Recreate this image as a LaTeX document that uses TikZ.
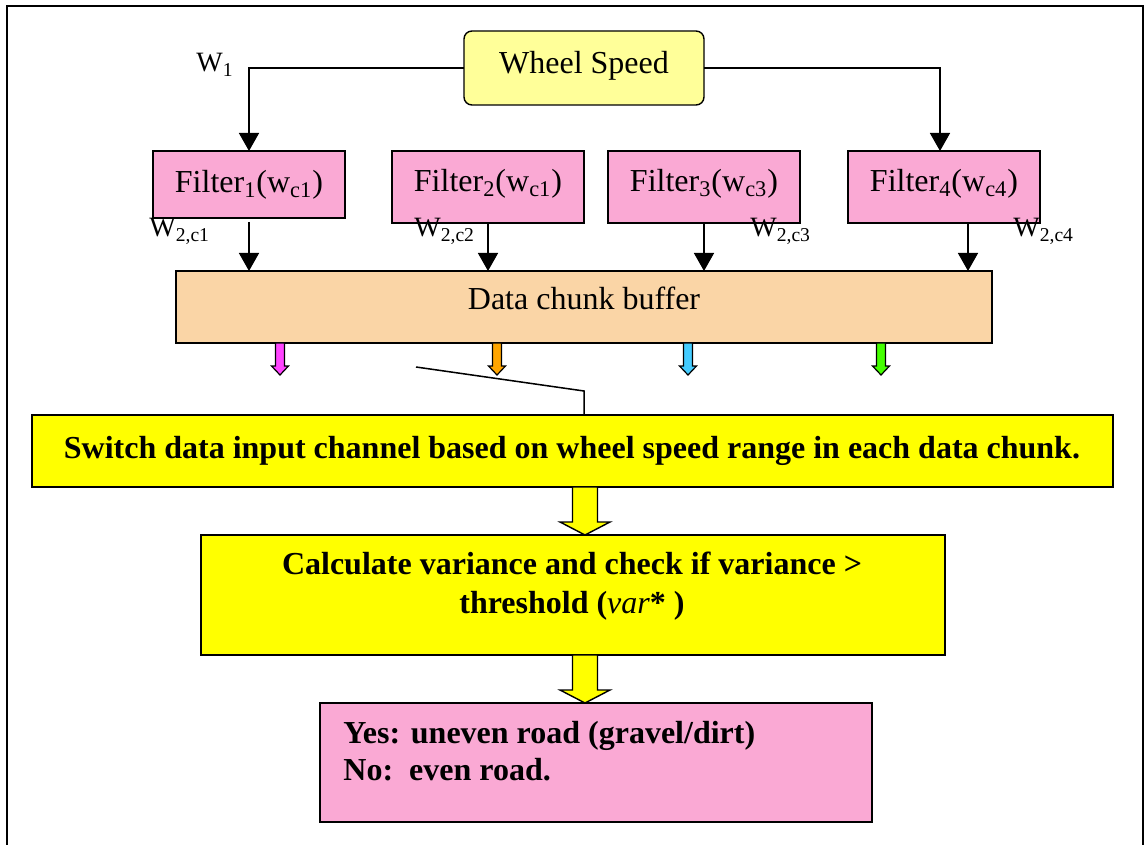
\documentclass[tikz,border=0pt]{standalone}
\usepackage{fontspec}
\setmainfont{Liberation Serif}
\usetikzlibrary{arrows.meta,calc}
\definecolor{wsyellow}{HTML}{FFFF99}
\definecolor{fpink}{HTML}{FAA9D4}
\definecolor{bufpeach}{HTML}{FAD5A6}
\definecolor{syellow}{HTML}{FFFF00}
\definecolor{amag}{HTML}{FF44FF}
\definecolor{aorange}{HTML}{FFA500}
\definecolor{acyan}{HTML}{44CCFF}
\definecolor{agreen}{HTML}{44FF00}
\begin{document}
\begin{tikzpicture}[x=0.5pt,y=-0.5pt,
  box/.style={draw=black,line width=0.7pt,inner sep=0pt,outer sep=0pt},
  filt/.style={box,fill=fpink,minimum width=96pt,minimum height=36pt,font=\fontsize{16}{19}\selectfont},
  lab/.style={inner sep=0pt,font=\fontsize{14}{17}\selectfont},
  conn/.style={line width=0.75pt,-{Triangle[length=9pt,width=10pt]}},
  bold16/.style={inner sep=0pt,font=\fontsize{16}{18.5}\selectfont\bfseries},
  small arrow/.style={draw=black,line width=0.6pt},
  block arrow/.style={draw=black,line width=0.7pt,fill=syellow}
]
\useasboundingbox (0,0) rectangle (1146,845);
% outer frame
\draw[line width=1pt] (7,845) -- (7,6) -- (1143,6) -- (1143,845);

% Wheel speed
\node[box,fill=wsyellow,rounded corners=4pt,minimum width=120pt,minimum height=37pt,
      font=\fontsize{16}{19}\selectfont,text depth=6pt] (ws) at (584,68) {Wheel Speed};

% filters
\node[filt,minimum height=33.5pt] (f1) at (249,184.5) {Filter\textsubscript{1}(w\textsubscript{c1})};
\node[filt,text depth=6.5pt] (f2) at (488,187) {Filter\textsubscript{2}(w\textsubscript{c1})};
\node[filt,text depth=6.5pt] (f3) at (704,187) {Filter\textsubscript{3}(w\textsubscript{c3})};
\node[filt,text depth=6.5pt] (f4) at (944,187) {Filter\textsubscript{4}(w\textsubscript{c4})};

% buffer
\node[box,fill=bufpeach,minimum width=408pt,minimum height=36pt,
      font=\fontsize{16}{19}\selectfont,text depth=9pt] (buf) at (584,307) {Data chunk buffer};

% labels
\node[lab,anchor=base west] (w1) at (196,72) {W\textsubscript{1}};
\node[lab,anchor=base west] (w2c1) at (149,237) {W\textsubscript{2,c1}};
\node[lab,anchor=base west] (w2c2) at (414,237) {W\textsubscript{2,c2}};
\node[lab,anchor=base west] (w2c3) at (750,237) {W\textsubscript{2,c3}};
\node[lab,anchor=base west] (w2c4) at (1013,237) {W\textsubscript{2,c4}};

% connectors wheel speed -> filters
\draw[conn] (ws.west) -| (f1.north);
\coordinate (f4in) at ($(f4.north)+(-4,0)$);
\draw[conn] (ws.east) -| (f4in);

% filters -> buffer
\coordinate (f1out) at ($(f1.south)+(0,4)$);
\draw[conn] (f1out) -- (f1out |- buf.north);
\draw[conn] (f2.south) -- (f2.south |- buf.north);
\draw[conn] (f3.south) -- (f3.south |- buf.north);
\coordinate (f4out) at ($(f4.south)+(24,0)$);
\draw[conn] (f4out) -- (f4out |- buf.north);

% small coloured arrows from buffer
\foreach \xx/\cc in {280/amag,497/aorange,688/acyan,881/agreen}{
  \filldraw[small arrow,fill=\cc] (\xx-4.5,343) -- (\xx+4.5,343) -- (\xx+4.5,366) -- (\xx+8.5,366)
     -- (\xx,375) -- (\xx-8.5,366) -- (\xx-4.5,366) -- cycle;
}

% switch box
\node[box,fill=syellow,minimum width=540.5pt,minimum height=36pt] (sw) at (572.5,451) {};
\node[bold16,anchor=base] (swt) at (572,458) {Switch data input channel based on wheel speed range in each data chunk.};

% switch symbol
\coordinate (s1) at (416,367);
\coordinate (s2) at (584,391);
\draw[line width=0.75pt] (s1) -- (s2) -- (s2 |- sw.north);

% block arrow 1
\filldraw[block arrow] (572.5,487) -- (597.5,487) -- (597.5,522) -- (610,522) -- (585,535)
   -- (560,522) -- (572.5,522) -- cycle;

% calc box
\node[box,fill=syellow,minimum width=372pt,minimum height=60pt] (calc) at (573,595) {};
\node[bold16,align=center,anchor=base,font=\fontsize{16}{19.5}\selectfont\bfseries] (calct) at (572,613)
  {Calculate variance and check if variance >\\threshold (\textnormal{\itshape var}* )};

% block arrow 2
\filldraw[block arrow] (572.5,655) -- (597.5,655) -- (597.5,690) -- (610,690) -- (585,703)
   -- (560,690) -- (572.5,690) -- cycle;

% result box
\node[box,fill=fpink,minimum width=276pt,minimum height=59.5pt] (res) at (596,762.5) {};
\node[bold16,align=left,anchor=base west] (rest) at (343,780)
  {Yes: uneven road (gravel/dirt)\\No:\ \ even road.};
\end{tikzpicture}
\end{document}
